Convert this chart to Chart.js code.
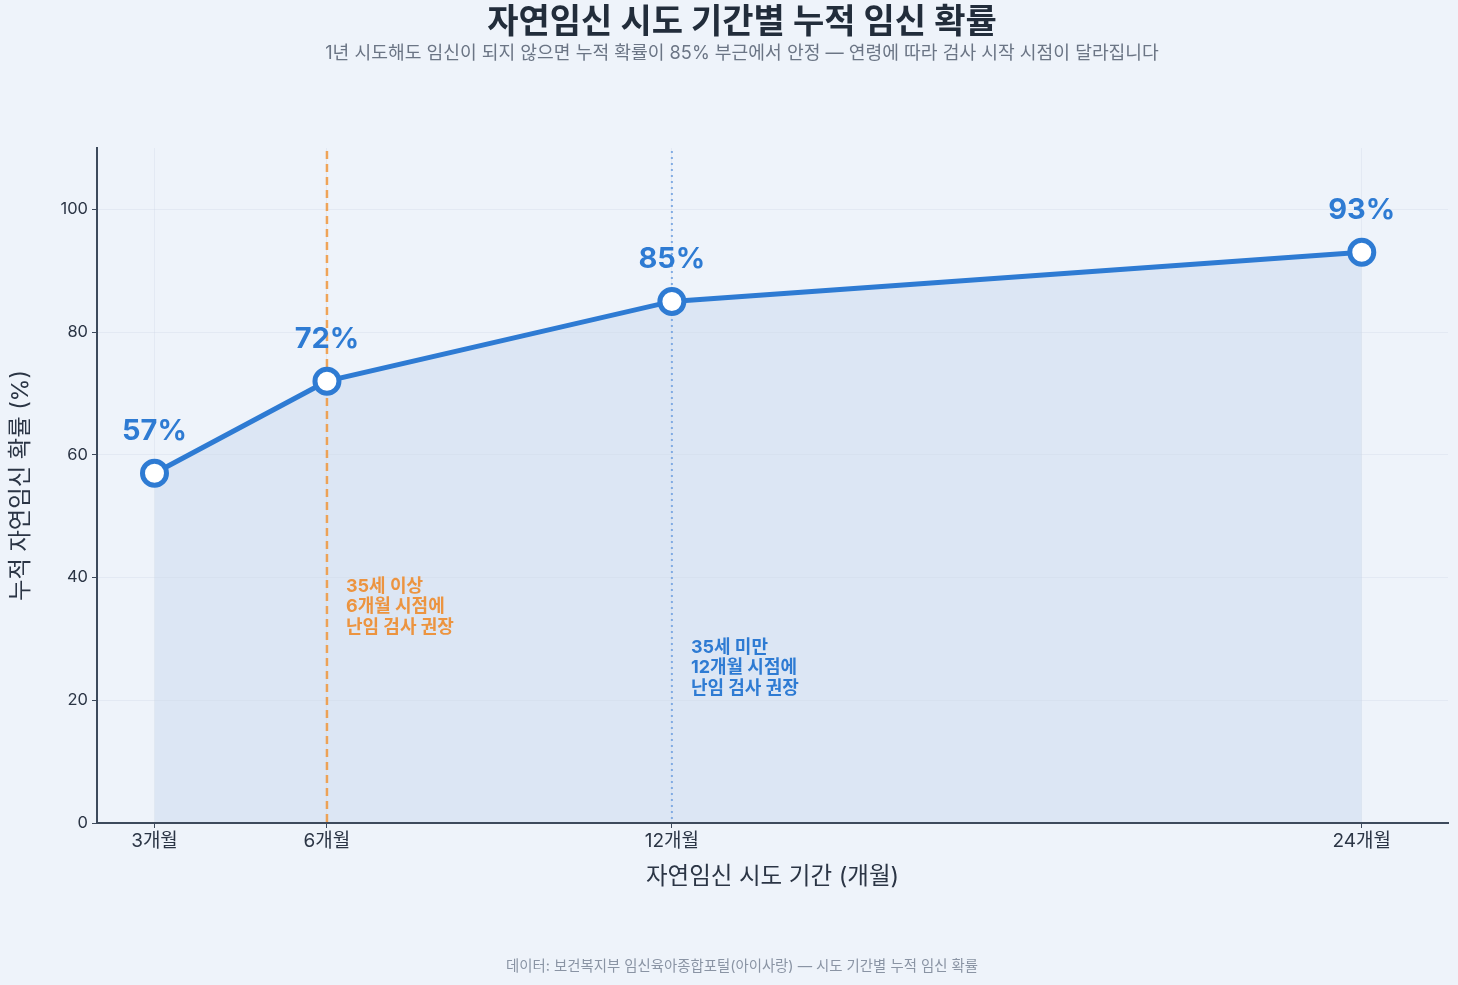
<!DOCTYPE html>
<html lang="ko">
<head>
<meta charset="utf-8">
<script src="https://cdn.jsdelivr.net/npm/chart.js@4.4.1/dist/chart.umd.min.js"></script>
<style>
  html, body { margin: 0; padding: 0; background: #eef3fa; }
  #wrap { width: 1458px; height: 985px; position: relative; background: #eef3fa; }
</style>
</head>
<body>
<div id="wrap"><canvas id="c" width="1458" height="985"></canvas></div>
<script>
const months = [3, 6, 12, 24];
const monthLabels = ['3개월', '6개월', '12개월', '24개월'];
const rates = [57, 72, 85, 93];
const yTicks = [0, 20, 40, 60, 80, 100];

const titleText = '자연임신 시도 기간별 누적 임신 확률';
const subtitleText = '1년 시도해도 임신이 되지 않으면 누적 확률이 85% 부근에서 안정 — 연령에 따라 검사 시작 시점이 달라집니다';
const footerText = '데이터: 보건복지부 임신육아종합포털(아이사랑) — 시도 기간별 누적 임신 확률';
const xTitle = '자연임신 시도 기간 (개월)';
const yTitle = '누적 자연임신 확률 (%)';

const markerOld = 6;
const markerYoung = 12;
const noteOld = ['35세 이상', '6개월 시점에', '난임 검사 권장'];
const noteYoung = ['35세 미만', '12개월 시점에', '난임 검사 권장'];
const noteOldY = 38.6;
const noteYoungY = 28.6;

const FONT = "Inter, 'Noto Sans CJK KR', 'Noto Sans', sans-serif";
const BLUE = '#2e7bd3';
const ORANGE = 'rgba(240,150,60,0.85)';
const BLUE_LINE = 'rgba(120,165,225,0.9)';

const decor = {
  id: 'decor',
  beforeDatasetsDraw(chart) {
    const ctx = chart.ctx;
    const {top, bottom} = chart.chartArea;
    const xs = chart.scales.x;
    ctx.save();
    ctx.strokeStyle = ORANGE;
    ctx.lineWidth = 2.5;
    ctx.setLineDash([8, 5]);
    let px = xs.getPixelForValue(markerOld);
    ctx.beginPath(); ctx.moveTo(px, top + 3); ctx.lineTo(px, bottom); ctx.stroke();
    ctx.strokeStyle = BLUE_LINE;
    ctx.lineWidth = 2;
    ctx.setLineDash([2, 4]);
    px = xs.getPixelForValue(markerYoung);
    ctx.beginPath(); ctx.moveTo(px, top + 3); ctx.lineTo(px, bottom); ctx.stroke();
    ctx.restore();
  },
  afterDatasetsDraw(chart) {
    const ctx = chart.ctx;
    const xs = chart.scales.x, ys = chart.scales.y;
    ctx.save();
    ctx.font = 'bold 29px ' + FONT;
    ctx.fillStyle = BLUE;
    ctx.textAlign = 'center';
    ctx.textBaseline = 'middle';
    const meta = chart.getDatasetMeta(0);
    meta.data.forEach((pt, i) => {
      ctx.fillText(rates[i] + '%', pt.x, pt.y - 42);
    });
    ctx.font = 'bold 18px ' + FONT;
    ctx.textAlign = 'left';
    ctx.fillStyle = '#ec9440';
    let nx = xs.getPixelForValue(markerOld) + 19;
    let ny = ys.getPixelForValue(noteOldY);
    noteOld.forEach((t, i) => ctx.fillText(t, nx, ny + i * 20.5));
    ctx.fillStyle = BLUE;
    nx = xs.getPixelForValue(markerYoung) + 19;
    ny = ys.getPixelForValue(noteYoungY);
    noteYoung.forEach((t, i) => ctx.fillText(t, nx, ny + i * 20.5));
    ctx.textAlign = 'center';
    ctx.fillStyle = '#222d3b';
    ctx.font = 'bold 34px ' + FONT;
    ctx.fillText(titleText, 742, 23);
    ctx.fillStyle = '#6b7585';
    ctx.font = '18.2px ' + FONT;
    ctx.fillText(subtitleText, 742, 54);
    ctx.fillStyle = '#8a94a4';
    ctx.font = '14.4px ' + FONT;
    ctx.fillText(footerText, 742, 967);
    ctx.restore();
  }
};

new Chart(document.getElementById('c'), {
  type: 'line',
  data: {
    datasets: [{
      data: months.map((m, i) => ({x: m, y: rates[i]})),
      borderColor: BLUE,
      borderWidth: 5,
      backgroundColor: 'rgba(214,226,241,0.75)',
      fill: 'origin',
      tension: 0,
      pointRadius: 12,
      pointHoverRadius: 12,
      pointBorderWidth: 5,
      pointBorderColor: BLUE,
      pointBackgroundColor: '#ffffff',
      clip: false
    }]
  },
  options: {
    responsive: false,
    animation: false,
    events: [],
    layout: { autoPadding: false, padding: { top: 148, right: 10, bottom: 0, left: 0 } },
    plugins: { legend: { display: false }, tooltip: { enabled: false }, filler: { drawTime: 'beforeDraw' } },
    scales: {
      x: {
        type: 'linear',
        min: 2, max: 25.5,
        afterFit(s) { s.height = 162; s.paddingRight = 0; s.paddingLeft = 0; },
        afterBuildTicks(s) { s.ticks = months.map(v => ({value: v})); },
        ticks: {
          font: { family: FONT, size: 19 },
          color: '#2b3545',
          padding: 2,
          callback(v) { const i = months.indexOf(v); return i >= 0 ? monthLabels[i] : ''; }
        },
        grid: { color: 'rgba(205,215,230,0.35)', tickColor: '#3d4a5c', tickLength: 5, lineWidth: 1 },
        border: { color: '#3d4a5c', width: 2 },
        title: {
          display: true, text: xTitle,
          font: { family: FONT, size: 23.5 }, color: '#2b3545',
          padding: { top: 0, bottom: 94 }
        }
      },
      y: {
        type: 'linear',
        min: 0, max: 110,
        afterFit(s) { s.width = 97; },
        afterBuildTicks(s) { s.ticks = yTicks.map(v => ({value: v})); },
        ticks: {
          font: { family: FONT, size: 16.5 },
          color: '#2b3545',
          padding: 4
        },
        grid: { color: 'rgba(205,215,230,0.35)', tickColor: '#3d4a5c', tickLength: 5, lineWidth: 1 },
        border: { color: '#3d4a5c', width: 2 },
        title: {
          display: true, text: yTitle,
          font: { family: FONT, size: 23.3 }, color: '#2b3545',
          padding: { top: 7, bottom: 0 }
        }
      }
    }
  },
  plugins: [decor]
});
</script>
</body>
</html>
